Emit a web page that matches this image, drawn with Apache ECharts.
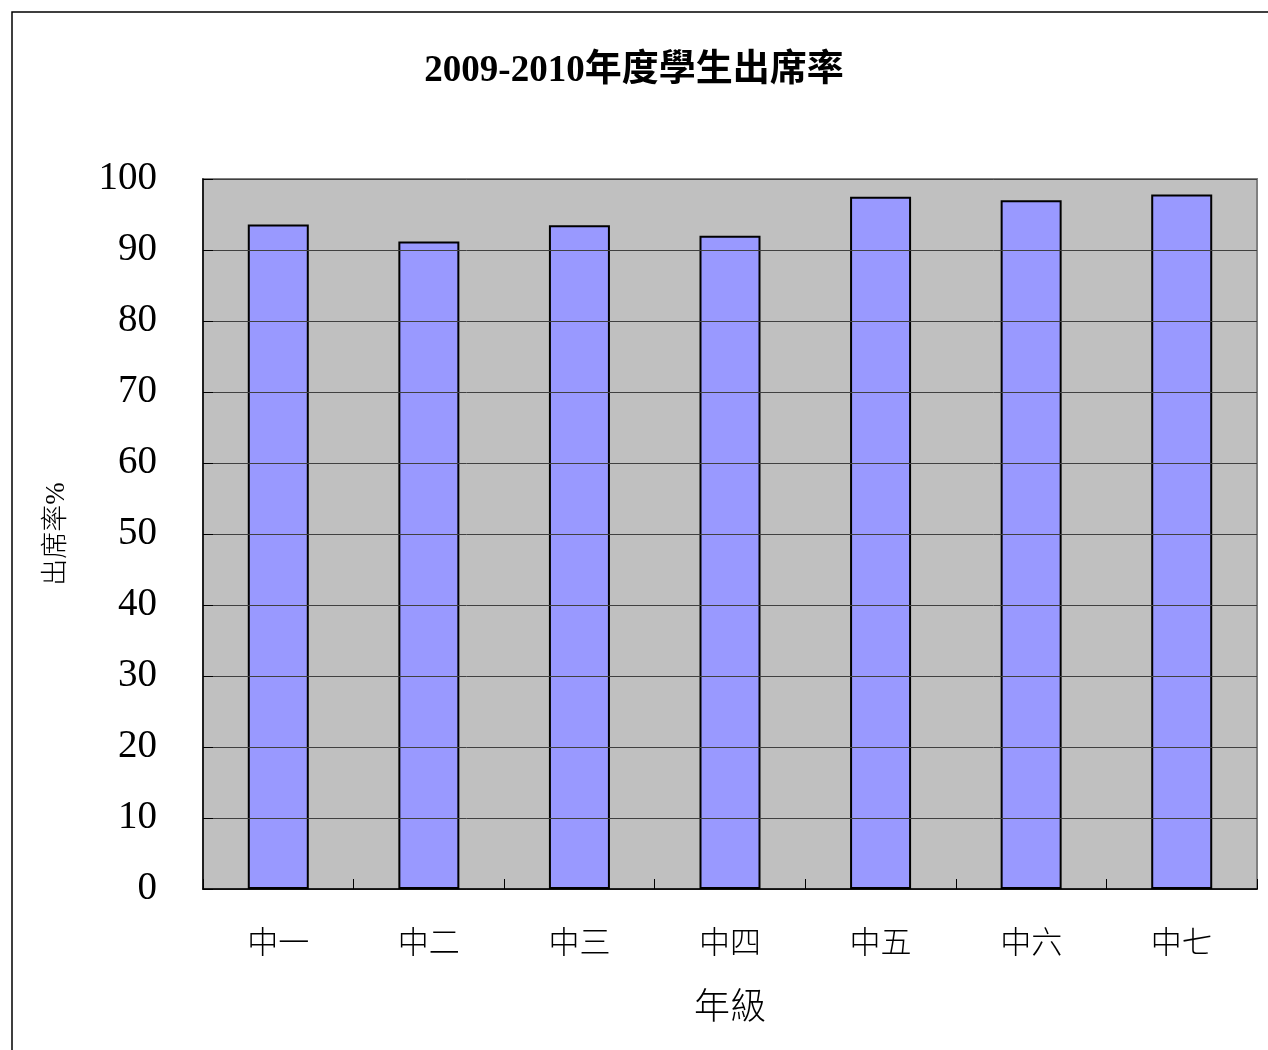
<!DOCTYPE html>
<html><head><meta charset="utf-8">
<script src="https://cdn.jsdelivr.net/npm/echarts@6/dist/echarts.min.js"></script>
<style>html,body{margin:0;padding:0;background:#fff}#c{width:1268px;height:1050px}</style>
</head><body><div id="c"></div>
<script>
const categories = ['中一','中二','中三','中四','中五','中六','中七'];
const attendance = [93.6, 91.2, 93.5, 92.0, 97.5, 97.0, 97.8];
const yTicks = [0,10,20,30,40,50,60,70,80,90,100];
const titleText = '2009-2010年度學生出席率';
const xName = '年級';
const yName = '出席率%';

const serif = '"Liberation Serif","Noto Sans CJK TC",serif';
const chart = echarts.init(document.getElementById('c'));
chart.setOption({
  backgroundColor: '#fff',
  animation: false,
  title: {text: titleText, left: 'center', top: 48,
    textStyle: {fontFamily: serif, fontSize: 37, fontWeight: 'bold', color: '#000'}},
  graphic: [{type: 'rect', shape: {x: 12, y: 12, width: 1300, height: 1100},
    style: {fill: 'none', stroke: '#000', lineWidth: 1.5}, z: -1}],
  grid: {left: 203, top: 179, right: 11, bottom: 161, show: true,
    backgroundColor: '#C0C0C0', borderColor: '#808080', borderWidth: 2},
  xAxis: {type: 'category', data: categories, name: xName, nameLocation: 'middle', nameGap: 103,
    z: 10,
    nameTextStyle: {fontFamily: serif, fontSize: 36, color: '#000', fontWeight: 300},
    axisLine: {lineStyle: {color: '#000', width: 1.5}},
    axisTick: {show: true, interval: 0, inside: true, length: 10, lineStyle: {color: '#000', width: 1}},
    axisLabel: {fontFamily: serif, fontSize: 31, color: '#000', margin: 40, fontWeight: 300}},
  yAxis: {type: 'value', min: 0, max: 100, interval: 10, name: yName, nameLocation: 'middle', nameGap: 133,
    z: 10,
    nameTextStyle: {fontFamily: serif, fontSize: 27, color: '#000', fontWeight: 300},
    axisLine: {show: true, lineStyle: {color: '#000', width: 1.5}},
    axisTick: {show: true, inside: true, length: 10, lineStyle: {color: '#000'}},
    axisLabel: {fontFamily: serif, fontSize: 39, color: '#000', margin: 46,
      formatter: v => yTicks.includes(v) ? String(v) : ''},
    splitLine: {show: true, lineStyle: {color: '#404040', width: 1}}},
  series: [{type: 'bar', data: attendance, barWidth: 61,
    itemStyle: {color: '#9999FF', borderColor: '#000', borderWidth: 2}}]
});
</script></body></html>
